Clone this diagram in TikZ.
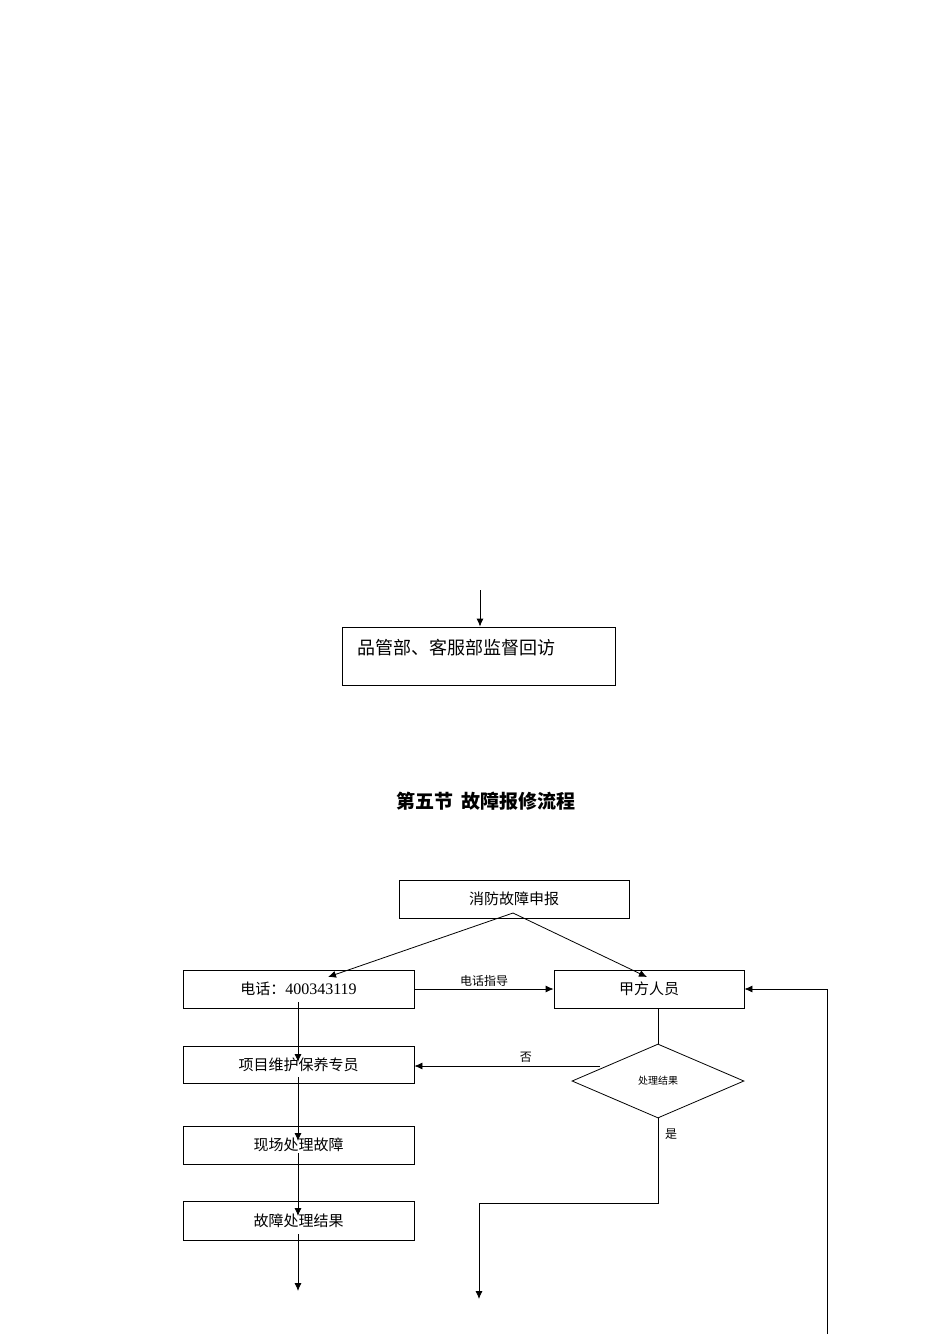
\documentclass[tikz,border=0pt]{standalone}
\usepackage{fontspec}
\setmainfont{Liberation Serif}
\newfontfamily\cjk{Noto Sans CJK SC}
\usetikzlibrary{shapes.geometric}
\begin{document}
\begin{tikzpicture}[x=1pt,y=-1pt,
  box/.style={draw,line width=0.8pt,minimum height=38pt,font=\cjk\fontsize{15}{17}\selectfont,inner sep=0pt},
  arr/.style={line width=0.8pt,-{Latex[length=8pt,width=7pt]}},
  ln/.style={line width=0.8pt}]
\useasboundingbox (0,0) rectangle (950,1344);
\usetikzlibrary{arrows.meta}
\node[draw,line width=0.8pt,minimum width=273pt,minimum height=58pt,inner sep=0pt] (pg) at (478.5,656) {};
\node[font=\cjk\fontsize{18}{20}\selectfont,anchor=west] (pgt) at (354,648) {品管部、客服部监督回访};
\coordinate (pgin) at (480,590);
\draw[arr] (pgin) -- (pg.north -| pgin);
\node[font=\cjk\bfseries\fontsize{19}{21}\selectfont] (title) at (486,801) {第五节 \ 故障报修流程};
\node[box,minimum width=230pt] (A) at (514,899) {消防故障申报};
\node[box,minimum width=231pt] (B) at (298.5,989) {电话：{\rmfamily\fontsize{16}{18}\selectfont 400343119}};
\node[box,minimum width=190pt] (C) at (649,989) {甲方人员};
\node[box,minimum width=231pt,minimum height=37pt] (D) at (298.5,1064.5) {项目维护保养专员};
\node[box,minimum width=231pt] (E) at (298.5,1145) {现场处理故障};
\node[box,minimum width=231pt,minimum height=39pt] (F) at (298.5,1220.5) {故障处理结果};
\node[draw,line width=0.8pt,diamond,aspect=2.3,minimum width=172pt,minimum height=74pt,inner sep=0pt,font=\cjk\fontsize{10}{12}\selectfont] (G) at (658,1081) {处理结果};
\coordinate (as) at (513,913);
\coordinate (bt) at (328,977);
\coordinate (ct) at (647,977);
\draw[arr] (as) -- (bt);
\draw[arr] (as) -- (ct);
\draw[arr] (B.east) -- node[above,font=\cjk\fontsize{12}{14}\selectfont,yshift=-1pt]{电话指导} (C.west);
\coordinate (v0) at (298,1002);
\coordinate (v1) at (298,1062);
\coordinate (v2) at (298,1077);
\coordinate (v3) at (298,1141);
\coordinate (v4) at (298,1153);
\coordinate (v5) at (298,1216);
\coordinate (v6) at (298,1234);
\coordinate (v7) at (298,1291);
\draw[arr] (v0) -- (v1);
\draw[arr] (v2) -- (v3);
\draw[arr] (v4) -- (v5);
\draw[arr] (v6) -- (v7);
\draw[ln] (C.south -| G.north) -- (G.north);
\coordinate (gl) at (600,1066);
\draw[arr] (gl) -- (D.east |- gl) node[pos=0.4,above,font=\cjk\fontsize{12}{14}\selectfont]{否};
\coordinate (g1) at (658,1203);
\coordinate (g2) at (479,1203);
\coordinate (g3) at (479,1299);
\draw[arr] (G.south) -- (g1) -- (g2) -- (g3);
\node[font=\cjk\fontsize{12}{14}\selectfont] (yes) at (671,1134) {是};
\coordinate (r0) at (827,1334);
\coordinate (r1) at (827,989);
\draw[arr] (r0) -- (r1) -- (C.east);
\end{tikzpicture}
\end{document}
